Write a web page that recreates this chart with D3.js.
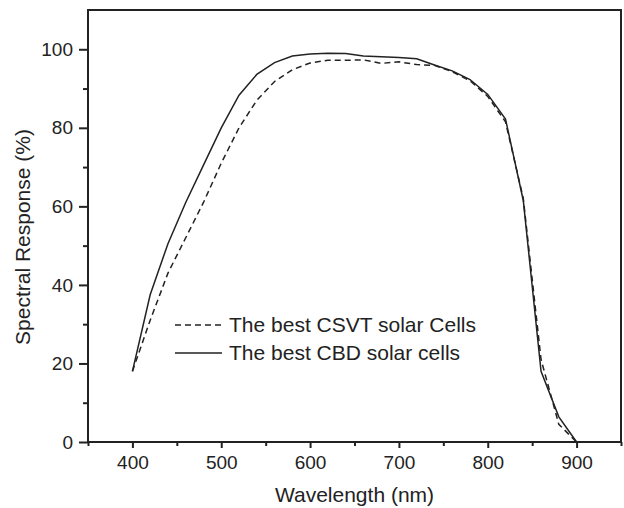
<!DOCTYPE html>
<html>
<head>
<meta charset="utf-8">
<script src="https://cdn.jsdelivr.net/npm/d3@7"></script>
<style>
  body { margin: 0; background: #fff; }
  svg { display: block; font-family: "Liberation Sans", Arial, sans-serif; }
</style>
</head>
<body>
<div id="container"></div>
<script>
// wavelength points (nm)
const wavelengths = [400, 420, 440, 460, 480, 500, 520, 540, 560, 580, 600, 620, 640,
                     660, 680, 700, 720, 740, 760, 780, 800, 820, 840, 860, 880, 900];
// The best CSVT solar cells (dashed)
const csvt = [18, 31, 43, 52, 61, 71, 80, 87, 91.8, 94.8, 96.5, 97.2, 97.2,
              97.3, 96.4, 96.8, 96.1, 95.9, 94.3, 92, 88, 81.5, 62, 21, 4.5, 0];
// The best CBD solar cells (solid)
const cbd = [18, 37.5, 50.5, 61, 70.5, 80, 88.3, 93.6, 96.6, 98.3, 98.8, 99.0, 98.9,
             98.3, 98.1, 97.9, 97.6, 96, 94.5, 92.3, 88.5, 82.2, 61.5, 18, 6.4, 0];
const seriesNames = ["The best CSVT solar Cells", "The best CBD solar cells"];
const xTicks = [400, 500, 600, 700, 800, 900];
const yTicks = [0, 20, 40, 60, 80, 100];

const width = 624, height = 508;
const margin = {top: 10, right: 3, bottom: 66, left: 88};
const ink = "#222";

const svg = d3.create("svg")
    .attr("width", width)
    .attr("height", height)
    .attr("viewBox", [0, 0, width, height]);

const x = d3.scaleLinear().domain([350, 950]).range([margin.left, width - margin.right]);
const y = d3.scaleLinear().domain([0, 110]).range([height - margin.bottom, margin.top]);

// minor ticks
const xMinor = d3.range(350, 951, 50).filter(v => !xTicks.includes(v));
const yMinor = d3.range(10, 110, 20);

svg.append("g")
    .attr("transform", `translate(0,${y(0)})`)
    .call(d3.axisBottom(x).tickValues(xMinor).tickSize(4).tickFormat(""))
    .call(g => g.select(".domain").remove())
    .call(g => g.selectAll("line").attr("stroke", ink).attr("stroke-width", 2));

svg.append("g")
    .attr("transform", `translate(${x(350)},0)`)
    .call(d3.axisLeft(y).tickValues(yMinor).tickSize(5).tickFormat(""))
    .call(g => g.select(".domain").remove())
    .call(g => g.selectAll("line").attr("stroke", ink).attr("stroke-width", 2));

// major axes
svg.append("g")
    .attr("transform", `translate(0,${y(0)})`)
    .call(d3.axisBottom(x).tickValues(xTicks).tickSize(6).tickPadding(8))
    .call(g => g.select(".domain").remove())
    .call(g => g.selectAll("line").attr("stroke", ink).attr("stroke-width", 2))
    .call(g => g.selectAll("text").attr("fill", ink).attr("font-size", 19).attr("font-family", null));

svg.append("g")
    .attr("transform", `translate(${x(350)},0)`)
    .call(d3.axisLeft(y).tickValues(yTicks).tickSize(9).tickPadding(6))
    .call(g => g.select(".domain").remove())
    .call(g => g.selectAll("line").attr("stroke", ink).attr("stroke-width", 2))
    .call(g => g.selectAll("text").attr("fill", ink).attr("font-size", 19).attr("font-family", null));

// frame
svg.append("rect")
    .attr("x", x(350))
    .attr("y", y(110))
    .attr("width", x(950) - x(350))
    .attr("height", y(0) - y(110))
    .attr("fill", "none")
    .attr("stroke", ink)
    .attr("stroke-width", 2);

// axis titles
svg.append("text")
    .attr("x", (x(350) + x(950)) / 2)
    .attr("y", 502)
    .attr("text-anchor", "middle")
    .attr("font-size", 21)
    .attr("fill", ink)
    .text("Wavelength (nm)");

svg.append("text")
    .attr("transform", `translate(30,237) rotate(-90)`)
    .attr("text-anchor", "middle")
    .attr("font-size", 21)
    .attr("fill", ink)
    .text("Spectral Response (%)");

// curves
const line = d3.line()
    .x(d => x(d[0]))
    .y(d => y(d[1]));

svg.append("path")
    .datum(wavelengths.map((w, i) => [w, csvt[i]]))
    .attr("fill", "none")
    .attr("stroke", ink)
    .attr("stroke-width", 1.5)
    .attr("stroke-dasharray", "6,4")
    .attr("d", line);

svg.append("path")
    .datum(wavelengths.map((w, i) => [w, cbd[i]]))
    .attr("fill", "none")
    .attr("stroke", ink)
    .attr("stroke-width", 1.5)
    .attr("d", line);

// legend
const legend = svg.append("g");
seriesNames.forEach((name, i) => {
  const ly = 325 + i * 28;
  legend.append("line")
      .attr("x1", 175).attr("x2", 222)
      .attr("y1", ly).attr("y2", ly)
      .attr("stroke", ink)
      .attr("stroke-width", 1.5)
      .attr("stroke-dasharray", i === 0 ? "6,4" : null);
  legend.append("text")
      .attr("x", 229)
      .attr("y", ly)
      .attr("dy", "0.35em")
      .attr("font-size", 21)
      .attr("fill", ink)
      .text(name);
});

d3.select("#container").append(() => svg.node());
</script>
</body>
</html>
